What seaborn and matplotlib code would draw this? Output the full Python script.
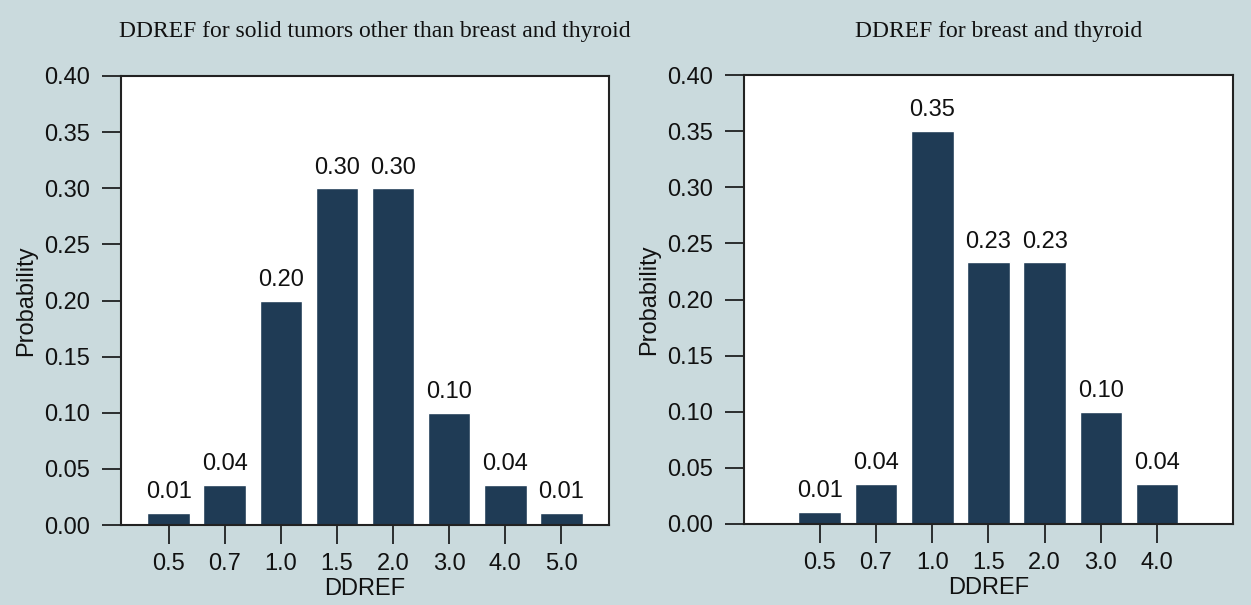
import matplotlib
matplotlib.use("Agg")
import matplotlib.pyplot as plt
import seaborn as sns
import pandas as pd

# Datos
ddref_solid = ["0.5", "0.7", "1.0", "1.5", "2.0", "3.0", "4.0", "5.0"]
prob_solid = [0.011, 0.0355, 0.20, 0.30, 0.30, 0.10, 0.0355, 0.011]
labels_solid = ["0.01", "0.04", "0.20", "0.30", "0.30", "0.10", "0.04", "0.01"]

ddref_breast = ["0.5", "0.7", "1.0", "1.5", "2.0", "3.0", "4.0"]
prob_breast = [0.011, 0.0355, 0.35, 0.233, 0.233, 0.10, 0.0355]
labels_breast = ["0.01", "0.04", "0.35", "0.23", "0.23", "0.10", "0.04"]

titulos = ["DDREF for solid tumors other than breast and thyroid",
           "DDREF for breast and thyroid"]
yticks = [0.00, 0.05, 0.10, 0.15, 0.20, 0.25, 0.30, 0.35, 0.40]

fondo = "#cadadd"
color_barra = "#1f3b55"

sns.set_style("ticks")
plt.rcParams["font.family"] = ["Liberation Sans", "DejaVu Sans"]

fig = plt.figure(figsize=(12.51, 6.05), dpi=100, facecolor=fondo)
ax1 = fig.add_axes([0.0967, 0.1322, 0.3901, 0.7422])
ax2 = fig.add_axes([0.5947, 0.1339, 0.3909, 0.7421])

paneles = [
    (ax1, ddref_solid, prob_solid, labels_solid, (-0.85, 7.85)),
    (ax2, ddref_breast, prob_breast, labels_breast, (-1.35, 7.35)),
]

for i, (ax, cats, vals, etiquetas, xlim) in enumerate(paneles):
    df = pd.DataFrame({"DDREF": cats, "Probability": vals})
    sns.barplot(data=df, x="DDREF", y="Probability", order=cats,
                color=color_barra, saturation=1, width=0.76, ax=ax)
    ax.set_facecolor("white")
    ax.bar_label(ax.containers[0], labels=etiquetas, padding=7,
                 fontsize=17, color="#111111")

    ax.set_xlim(*xlim)
    ax.set_ylim(0, 0.40)
    ax.set_yticks(yticks)
    ax.set_yticklabels([f"{t:.2f}" for t in yticks])
    ax.tick_params(axis="both", direction="out", length=14, width=1.2,
                   labelsize=17, colors="#111111", pad=8)
    ax.tick_params(axis="x", pad=6)
    for s in ax.spines.values():
        s.set_visible(True)
        s.set_linewidth(1.5)
        s.set_color("#222222")

    ax.set_xlabel("DDREF", fontsize=17, labelpad=2, color="#111111")
    ax.set_ylabel("Probability", fontsize=17, labelpad=5, color="#111111")

    pos = ax.get_position()
    fig.text((pos.x0 + pos.x1) / 2 + 0.008, 0.948, titulos[i],
             ha="center", va="center", fontsize=17,
             family=["Liberation Serif", "DejaVu Serif"], color="#111111")

fig.savefig("out.png", dpi=100, facecolor=fondo)
